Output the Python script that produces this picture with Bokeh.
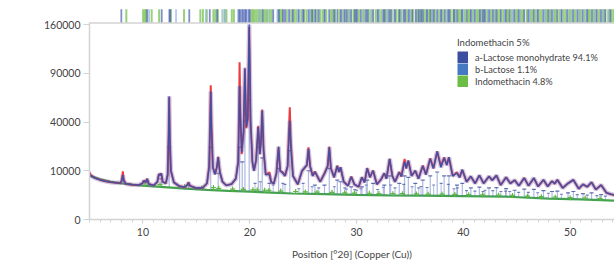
import numpy as np
from bokeh.plotting import figure
from bokeh.models import (Range1d, FixedTicker, SingleIntervalTicker, Span, Label,
                          Legend, LegendItem)
from bokeh.embed import file_html
from bokeh.resources import INLINE

# ---------------- data ----------------
obs_x = [5.0, 5.15, 5.5, 6.0, 6.5, 7.0, 7.5, 7.9, 8.04, 8.12, 8.2, 8.4, 9.0, 9.6, 9.95, 10.1, 10.25, 10.4, 10.55,
         11.0, 11.35, 11.5, 11.6, 11.72, 11.85, 12.15, 12.32, 12.4, 12.46, 12.52, 12.62, 12.9, 13.4, 13.9, 14.15,
         14.27, 14.4, 15.0, 15.6, 16.0, 16.2, 16.29, 16.35, 16.42, 16.55, 16.75, 16.92, 17.05, 17.2, 17.45, 17.8,
         18.3, 18.7, 18.92, 19.0, 19.05, 19.12, 19.25, 19.42, 19.55, 19.68, 19.82, 19.95, 20.08, 20.25, 20.4, 20.6,
         20.8, 20.95, 21.05, 21.17, 21.3, 21.5, 21.7, 21.85, 22.0, 22.25, 22.5, 22.7, 22.85, 23.1, 23.3, 23.55,
         23.68, 23.75, 23.85, 24.05, 24.5, 24.9, 25.35, 25.5, 25.65, 25.9, 26.1, 26.6, 27.0, 27.3, 27.45, 27.6,
         27.9, 28.2, 28.35, 28.5, 28.8, 29.2, 29.5, 29.8, 30.2, 30.5, 30.75, 31.0, 31.25, 31.55, 31.9, 32.3, 32.6,
         32.8, 33.1, 33.35, 33.6, 34.0, 34.2, 34.5, 34.65, 34.85, 35.15, 35.5, 35.8, 36.2, 36.5, 36.9, 37.2, 37.55,
         37.9, 38.2, 38.45, 38.65, 39.0, 39.4, 39.65, 39.9, 40.3, 40.7, 41.1, 41.5, 41.9, 42.4, 42.7, 43.1, 43.5,
         44.0, 44.4, 44.8, 45.2, 45.7, 46.1, 46.6, 47.0, 47.5, 47.9, 48.3, 48.55, 48.8, 49.3, 49.8, 50.3, 50.8,
         51.2, 51.6, 52.0, 52.4, 52.9, 53.4, 53.8, 54.2]
obs_y = [9500, 8200, 7300, 6600, 6150, 5850, 5650, 5600, 6800, 9800, 6600, 5400, 5100, 5000, 5500, 6400, 5800, 7000, 5300,
         4900, 5900, 8800, 8300, 9000, 6000, 5500, 8500, 28000, 63000, 28000, 10000, 5800, 4700, 4400, 5000,
         5900, 4800, 4150, 4250, 5500, 12000, 40000, 76000, 38000, 11500, 8600, 11500, 16700, 9500, 6000, 4900,
         5300, 7000, 14000, 50000, 104000, 50000, 18000, 32000, 95000, 35000, 42000, 156000, 40000, 14000, 10000, 15000,
         37000, 18000, 25000, 51000, 20000, 8500, 9000, 9400, 6000, 5400, 9000, 22000, 10000, 9400, 8000, 12000,
         35000, 53000, 25000, 8000, 5200, 10000, 12500, 22000, 12000, 8000, 9700, 6000, 9000, 12000, 22400, 11000,
         7500, 12300, 9500, 11500, 6000, 4800, 7800, 5200, 4500, 7500, 5800, 11200, 7500, 10100, 5200, 6800, 9000,
         7000, 15500, 8000, 6000, 9500, 7800, 15500, 11000, 14600, 8000, 10100, 7000, 12300, 8500, 15800, 11000, 19500,
         12000, 16300, 12500, 16300, 8000, 9400, 7500, 10400, 6000, 7800, 5500, 8200, 5500, 7800, 6500, 8150, 5000,
         7500, 5500, 6500, 4800, 7300, 4800, 7200, 4600, 6600, 4600, 6200, 5400, 6600, 4200, 5500, 6600, 4000,
         5200, 4500, 5850, 3800, 5000, 3000, 2700, 2500]
calc_y = [8300, 8000, 7200, 6600, 6150, 5850, 5650, 5600, 6400, 8300, 6400, 5400, 5100, 5000, 5500, 6300, 5800, 6900, 5300,
          4900, 5900, 8600, 8200, 8900, 6000, 5500, 8500, 28000, 64000, 28000, 10000, 5800, 4700, 4400, 5000,
          5700, 4800, 4150, 4250, 5500, 11500, 36000, 69000, 35000, 11500, 8600, 11500, 16300, 9500, 6000, 4900,
          5300, 7000, 14000, 40000, 75000, 45000, 19000, 33000, 97000, 36000, 44000, 160000, 42000, 14000, 10000, 15000,
          36000, 18000, 25000, 50000, 20000, 8500, 8600, 8200, 6000, 5400, 9000, 22400, 10000, 9000, 8000, 12000,
          30000, 41000, 22000, 8000, 5200, 10000, 12500, 21000, 12000, 8000, 9500, 6000, 8800, 12000, 22000, 11000,
          7500, 12000, 9500, 11500, 6000, 4800, 7600, 5200, 4500, 7500, 5800, 11000, 7500, 10000, 5200, 6800, 9000,
          7000, 15500, 8000, 6000, 9300, 7800, 14000, 11000, 14600, 8000, 10000, 7000, 12000, 8500, 15500, 11000, 19500,
          11500, 16000, 12500, 16300, 8000, 9000, 7500, 10400, 6000, 7800, 5500, 8200, 5500, 7800, 6500, 8150, 5000,
          7500, 5500, 6500, 4800, 7200, 4800, 7200, 4600, 6600, 4600, 6200, 5400, 6600, 4200, 5500, 6600, 4000,
          5200, 4500, 5800, 3800, 5000, 3000, 2700, 2500]

bg_x = [5, 6, 7, 8, 9, 10, 12, 14, 16, 18, 20, 22, 24, 27, 30, 33, 36, 40, 44, 48, 51, 54.2]
bg_y = [8100, 6800, 6000, 5500, 5100, 4800, 4400, 4000, 3700, 3450, 3250, 3050, 2850, 2700, 2550, 2450, 2400,
        2300, 2200, 1850, 1700, 1500]

lac_stick_x = [8.12, 10.4, 11.72, 12.46, 14.27, 16.35, 17.05, 19.05, 19.3, 19.55, 19.95, 20.8, 21.17, 21.85, 22.7,
               23.75, 25.5, 26.1, 27.0, 27.45, 28.2, 28.5, 29.5, 30.5, 31.0, 31.55, 32.6, 33.1, 34.0, 34.5, 34.85,
               35.5, 36.2, 36.9, 37.55, 38.2, 38.65, 39.4, 39.9, 40.7, 41.5, 42.4, 43.1, 44.0, 44.8, 45.7, 46.6,
               47.5, 48.3, 48.8, 49.8, 50.3, 51.2, 52.0, 52.9]
lac_stick_top = [7000, 6000, 7000, 22000, 5000, 22000, 9000, 22000, 14000, 41000, 60000, 22000, 16000, 5500, 11000,
                 20000, 10000, 5000, 5000, 11000, 6500, 6000, 4500, 4500, 6500, 5500, 5000, 8000, 5500, 8000, 7500,
                 5500, 6500, 8000, 9500, 8000, 8000, 5000, 5500, 4200, 4400, 4200, 4300, 4000, 3600, 3900, 3800,
                 3500, 3300, 3400, 3000, 3300, 2800, 3000, 2600]
lac_stick_base = [5400, 4800, 4550, 4350, 4000, 3700, 3580, 3350, 3320, 3300, 3260, 3170, 3130, 3060, 2980,
                  2880, 2780, 2740, 2700, 2680, 2640, 2630, 2580, 2530, 2520, 2500, 2470, 2450, 2430, 2420, 2410,
                  2400, 2390, 2370, 2360, 2340, 2330, 2320, 2300, 2280, 2260, 2240, 2220, 2200, 2130, 2050, 1970,
                  1900, 1840, 1810, 1770, 1740, 1690, 1640, 1580]

lac_minor_x = [20.5, 21.0, 22.2, 23.1, 23.3, 24.6, 25.0, 25.84, 26.46, 27.92, 28.9, 29.06, 29.84, 30.02, 30.4, 30.9,
               31.98, 32.5, 33.2, 33.6, 34.42, 35.2, 35.82, 36.04, 36.6, 37.22, 37.92, 38.6, 39.12, 39.44, 40.3,
               41.08, 41.84, 42.02, 42.76, 43.52, 43.96, 44.34, 45.18, 46.08, 46.96, 47.96, 49.18, 50.66, 51.6,
               52.5, 53.3]
lac_minor_base = [3200, 3150, 3040, 2940, 2920, 2820, 2800, 2770, 2730, 2660, 2610, 2600, 2560, 2550, 2540, 2520,
                  2490, 2470, 2450, 2440, 2420, 2410, 2400, 2395, 2380, 2370, 2350, 2330, 2320, 2315, 2290,
                  2270, 2250, 2245, 2230, 2210, 2200, 2170, 2100, 2010, 1950, 1870, 1790, 1720, 1660,
                  1610, 1560]
lac_minor_top = [5500, 6000, 5000, 5500, 5200, 4000, 5500, 4500, 4200, 4500, 4200, 3900, 3800, 3600, 4000, 5000,
                 3800, 4400, 5000, 4200, 5200, 4500, 4200, 4600, 4300, 5000, 5500, 5200, 4000, 4200, 3500,
                 3400, 3300, 3600, 3500, 3300, 3400, 3300, 3100, 3100, 3000, 2900, 2700, 2600, 2500,
                 2400, 2300]

indo_mark_x = [10.2, 11.6, 13.9, 15.5, 16.6, 17.1, 18.4, 19.4, 20.3, 20.7, 21.4, 21.8, 22.9, 24.3, 25.2, 26.3, 27.7,
               28.9, 29.8, 31.2, 32.1, 33.4, 34.3, 35.6, 36.7, 38.0, 39.2, 40.5, 41.8, 43.3, 44.6, 46.0, 47.3, 48.6,
               50.0, 51.4, 52.8]
indo_mark_y = [5300, 5100, 4500, 4200, 4300, 4100, 3900, 3800, 3700, 3650, 3600, 3550, 3400, 3300, 3200, 3150, 3100,
               3000, 2950, 2900, 2850, 2800, 2800, 2750, 2700, 2700, 2650, 2600, 2550, 2500, 2450, 2300, 2200, 2100,
               2000, 1950, 1850]

refl_a_lactose = [7.98, 10.4, 11.76, 12.48, 12.56, 14.34, 16.26, 16.94, 19.0, 19.1, 19.28, 19.4, 19.56, 19.66, 19.92,
                  20.02, 21.2, 22.2, 22.74, 23.12, 23.3, 23.72, 24.04, 24.6, 25.02, 25.5, 25.84, 26.12, 26.46, 27.02,
                  27.44, 27.92, 28.22, 28.54, 28.9, 29.06, 29.5, 29.84, 30.02, 30.4, 30.9, 31.04, 31.56, 31.98, 32.5,
                  32.62, 33.06, 33.2, 33.6, 34.02, 34.42, 34.54, 34.86, 35.2, 35.54, 35.82, 36.04, 36.24, 36.6, 36.9,
                  37.22, 37.54, 37.92, 38.22, 38.6, 38.7, 39.12, 39.44, 39.88, 40.3, 40.7, 41.08, 41.54, 41.84, 42.02,
                  42.42, 42.76, 43.1, 43.52, 43.96, 44.34, 44.76, 45.18, 45.7, 46.08, 46.6, 46.96, 47.48, 47.96, 48.28,
                  48.8, 49.18, 49.72, 50.28, 50.66, 51.18, 51.6, 52.04, 52.5, 52.88, 53.3, 53.76]
refl_b_lactose = [10.58, 13.1, 15.9, 17.42, 17.7, 18.9, 19.78, 20.9, 21.72, 22.58, 23.62, 24.5, 24.92, 25.62, 26.2,
                  26.96, 27.84, 28.66, 29.26, 30.06, 30.68, 31.3, 32.16, 32.84, 33.5, 34.1, 34.96, 35.74, 36.58, 37.12,
                  37.82, 38.5, 39.2, 39.98, 40.82, 41.62, 42.3, 43.0, 43.86, 44.62, 45.3, 46.2, 47.0, 47.7, 48.4, 49.22,
                  50.0, 50.9, 51.5, 52.3, 53.1, 53.7]
refl_indomethacin = [8.45, 10.02, 10.18, 10.3, 10.82, 11.52, 12.62, 13.85, 15.38, 15.62, 15.98, 16.6, 16.78, 17.02,
                     17.62, 17.82, 18.32, 18.52, 20.18, 20.32, 20.48, 20.66, 20.84, 21.02, 21.3, 21.46, 21.62, 21.88,
                     22.05, 22.68, 22.86, 23.02, 23.46, 23.92, 24.18, 24.36, 24.82, 25.08, 25.3, 25.72, 25.94, 26.3,
                     26.62, 26.84, 27.18, 27.62, 27.78, 28.02, 28.42, 28.78, 29.18, 29.36, 29.72, 29.92, 30.22, 30.58,
                     30.76, 31.14, 31.42, 31.8, 32.06, 32.32, 32.7, 32.92, 33.3, 33.74, 33.96, 34.22, 34.68, 35.02,
                     35.3, 35.64, 35.9, 36.12, 36.42, 36.76, 37.02, 37.34, 37.7, 38.02, 38.36, 38.82, 39.06, 39.3, 39.6,
                     39.78, 40.12, 40.44, 40.6, 40.92, 41.26, 41.42, 41.72, 41.96, 42.22, 42.58, 42.9, 43.22, 43.4,
                     43.72, 44.06, 44.2, 44.52, 44.9, 45.06, 45.4, 45.58, 45.94, 46.3, 46.46, 46.78, 47.12, 47.3, 47.66,
                     47.84, 48.12, 48.5, 48.66, 49.0, 49.38, 49.56, 49.9, 50.12, 50.46, 50.82, 51.0, 51.36, 51.7, 51.86,
                     52.2, 52.38, 52.7, 53.04, 53.22, 53.56, 53.9, 54.1]

y_tick_values = [0, 10000, 40000, 90000, 160000]
legend_title = "Indomethacin 5%"
legend_labels = ["a-Lactose monohydrate 94.1%", "b-Lactose 1.1%", "Indomethacin 4.8%"]
x_label = "Position [°2θ] (Copper (Cu))"
y_label = "Counts"

# ---------------- styling ----------------
FONT = "Lato"
C_A = "#3b4e9f"
C_B = "#4679c3"
C_I = "#6cbd45"
AXIS_C = "#d3d3d3"
TXT_C = "#444444"

sq = np.sqrt

p = figure(width=614, height=263, output_backend="svg", toolbar_location=None,
           x_range=Range1d(5, 54.15), y_range=Range1d(0, 433),
           min_border_left=89, min_border_right=0, min_border_top=8, min_border_bottom=44)
p.outline_line_color = None
p.grid.visible = False
p.background_fill_color = "white"

# reflection tick band (top)
TB0, TB1 = 403.5, 431.5
p.segment(x0=refl_indomethacin, x1=refl_indomethacin, y0=[TB0] * len(refl_indomethacin),
          y1=[TB1] * len(refl_indomethacin), line_color=C_I, line_alpha=0.7, line_width=2.0)
p.segment(x0=refl_b_lactose, x1=refl_b_lactose, y0=[TB0] * len(refl_b_lactose),
          y1=[TB1] * len(refl_b_lactose), line_color="#8fb0e6", line_alpha=0.75, line_width=1.6)
p.segment(x0=refl_a_lactose, x1=refl_a_lactose, y0=[TB0] * len(refl_a_lactose),
          y1=[TB1] * len(refl_a_lactose), line_color="#4a5fb0", line_alpha=0.7, line_width=1.8)
p.add_layout(Span(location=TB0, dimension="width", line_color=AXIS_C, line_width=1.5))

# background
p.line(bg_x, sq(bg_y), line_color="#2f9a3a", line_width=2.2, line_alpha=0.9)

# phase sticks
p.segment(x0=lac_minor_x, x1=lac_minor_x, y0=sq(lac_minor_base), y1=sq(lac_minor_top),
          line_color="#5b73c4", line_alpha=0.45, line_width=1.1)
p.scatter(lac_minor_x, sq(lac_minor_top), marker="dash", size=3, line_color="#3b4e9f", line_width=1.1,
          line_alpha=0.7)
p.segment(x0=lac_stick_x, x1=lac_stick_x, y0=sq(lac_stick_base), y1=sq(lac_stick_top),
          line_color="#5b73c4", line_alpha=0.5, line_width=1.2)
p.scatter(lac_stick_x, sq(lac_stick_top), marker="dash", size=4, line_color="#3b4e9f", line_width=1.2,
          line_alpha=0.8)
p.scatter(indo_mark_x, sq(indo_mark_y), marker="cross", size=5, line_color="#5db840", line_width=1.2)

# observed and calculated
p.line(obs_x, sq(obs_y), line_color="#e8262c", line_width=2.0, line_alpha=0.9)
p.line(obs_x, sq(calc_y), line_color="#7d5ea8", line_width=4.5, line_alpha=0.35)
p.line(obs_x, sq(calc_y), line_color="#3d50a6", line_width=1.3)

# axes
p.yaxis.ticker = FixedTicker(ticks=[float(sq(v)) for v in y_tick_values])
p.yaxis.major_label_overrides = {float(sq(v)): str(v) for v in y_tick_values}
p.yaxis.bounds = (0, TB0)
p.yaxis.major_tick_out = 6
p.yaxis.major_tick_in = 0
p.yaxis.major_label_standoff = 3

p.xaxis.ticker = SingleIntervalTicker(interval=10, num_minor_ticks=10)
p.xaxis.major_tick_out = 4
p.xaxis.major_tick_in = 0
p.xaxis.minor_tick_out = 3
p.xaxis.minor_tick_in = 0
p.xaxis.major_label_standoff = 4
p.xaxis.axis_label = x_label
p.xaxis.axis_label_standoff = 9

for ax in (p.xaxis, p.yaxis):
    ax.axis_line_color = AXIS_C
    ax.axis_line_width = 1.5
    ax.major_tick_line_color = AXIS_C
    ax.major_tick_line_width = 1.2
    ax.major_label_text_font = FONT
    ax.major_label_text_font_size = "10.5px"
    ax.major_label_text_color = TXT_C
    ax.axis_label_text_font = FONT
    ax.axis_label_text_font_size = "10px"
    ax.axis_label_text_font_style = "normal"
    ax.axis_label_text_color = TXT_C
p.xaxis.minor_tick_line_color = AXIS_C
p.yaxis.minor_tick_line_color = None

p.add_layout(Label(x=0.41, y=411.5, text=y_label, text_align="right", text_baseline="alphabetic",
                   text_font=FONT, text_font_size="10px", text_color=TXT_C))

# legend: swatches drawn as thick butt-capped lines (renderers hold off-range data)
rs = []
for c in (C_A, C_B, C_I):
    rs.append(p.line(x=[-20, -19], y=[-20, -20], line_color=c, line_width=12, line_cap="butt"))
legend = Legend(items=[LegendItem(label=l, renderers=[r]) for l, r in zip(legend_labels, rs)],
                title=legend_title, location=(368, 132), orientation="vertical",
                glyph_width=11, glyph_height=12, label_height=12, spacing=0, padding=0, margin=0,
                label_standoff=7, border_line_color=None, background_fill_alpha=0,
                label_text_font=FONT, label_text_font_size="9.2px", label_text_color=TXT_C,
                title_text_font=FONT, title_text_font_size="9.5px", title_text_font_style="normal",
                title_text_color=TXT_C, title_standoff=3)
p.add_layout(legend)

open("out.html", "w").write(file_html(p, INLINE))
